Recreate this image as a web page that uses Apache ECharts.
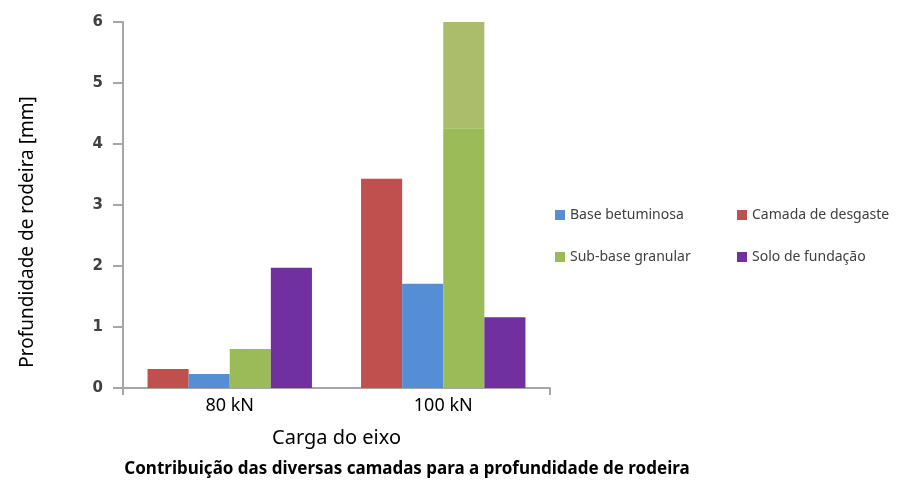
<!DOCTYPE html>
<html>
<head>
<meta charset="utf-8">
<script src="https://cdn.jsdelivr.net/npm/echarts@6/dist/echarts.min.js"></script>
<style>
  html, body { margin: 0; padding: 0; background: #ffffff; }
  #chart { width: 898px; height: 480px; }
</style>
</head>
<body>
<div id="chart"></div>
<script>
// Axle loads on the category axis
const categories = ['80 kN', '100 kN'];

// Rut depth contribution of each pavement layer [mm]
const camadaDesgaste = [0.31, 3.43];
const baseBetuminosa = [0.23, 1.71];
const subBaseGranular = [0.64, 4.26];
const subBaseGranularTopo = [0, 1.76];   // lighter upper part of the granular sub-base bar
const soloFundacao = [1.97, 1.16];

const yTicks = [0, 1, 2, 3, 4, 5, 6];

const chart = echarts.init(document.getElementById('chart'), null, { renderer: 'canvas' });

const legendText = { fontFamily: 'Noto Sans', fontSize: 14, color: '#404040' };

chart.setOption({
  animation: false,
  backgroundColor: '#ffffff',
  title: {
    text: 'Contribuição das diversas camadas para a profundidade de rodeira',
    left: 402, top: 456, textAlign: 'center',
    textStyle: { fontFamily: 'Noto Sans', fontWeight: 'bold', fontSize: 17, color: '#000000' }
  },
  legend: [
    {
      orient: 'vertical', left: 550, top: 203, itemGap: 28,
      itemWidth: 10, itemHeight: 10, icon: 'rect',
      data: ['Base betuminosa', 'Sub-base granular'],
      textStyle: legendText
    },
    {
      orient: 'vertical', left: 732, top: 203, itemGap: 28,
      itemWidth: 10, itemHeight: 10, icon: 'rect',
      data: ['Camada de desgaste', 'Solo de fundação'],
      textStyle: legendText
    }
  ],
  // Rotated y-axis title, placed beside the value axis
  graphic: [{
    type: 'text',
    x: 28, y: 232,
    rotation: Math.PI / 2,
    style: {
      text: 'Profundidade de rodeira [mm]',
      font: '19px "Noto Sans"',
      fill: '#000000',
      align: 'center',
      verticalAlign: 'middle'
    }
  }],
  grid: { left: 123, right: 348, top: 22, bottom: 92, containLabel: false },
  xAxis: {
    type: 'category',
    data: categories,
    name: 'Carga do eixo',
    nameLocation: 'middle',
    nameGap: 40,
    nameTextStyle: { fontFamily: 'Noto Sans', fontSize: 20, color: '#000000' },
    axisLine: { lineStyle: { color: '#a6a6a6', width: 2 } },
    axisTick: { show: true, length: 7, interval: function (i) { return i === 0; }, lineStyle: { color: '#a6a6a6', width: 2 } },
    axisLabel: { fontFamily: 'Noto Sans', fontSize: 18, color: '#000000', margin: 9 }
  },
  yAxis: {
    type: 'value',
    min: yTicks[0], max: yTicks[yTicks.length - 1], interval: 1,
    axisLine: { show: true, lineStyle: { color: '#a6a6a6', width: 2 } },
    axisTick: { show: true, length: 10, lineStyle: { color: '#a6a6a6', width: 2 } },
    splitLine: { show: false },
    axisLabel: { fontFamily: 'DejaVu Sans', fontWeight: 'bold', fontSize: 15, color: '#404040', margin: 20 }
  },
  series: [
    {
      name: 'Camada de desgaste', type: 'bar', data: camadaDesgaste,
      itemStyle: { color: '#c0504d' }, barGap: '0%', barCategoryGap: '23%'
    },
    {
      name: 'Base betuminosa', type: 'bar', data: baseBetuminosa,
      itemStyle: { color: '#558ed5' }
    },
    {
      name: 'Sub-base granular', type: 'bar', stack: 'granular', data: subBaseGranular,
      itemStyle: { color: '#9bbb59' }
    },
    {
      name: 'Sub-base granular (topo)', type: 'bar', stack: 'granular', data: subBaseGranularTopo,
      itemStyle: { color: '#abbc6b' }
    },
    {
      name: 'Solo de fundação', type: 'bar', data: soloFundacao,
      itemStyle: { color: '#7030a0' }
    }
  ]
});
</script>
</body>
</html>
